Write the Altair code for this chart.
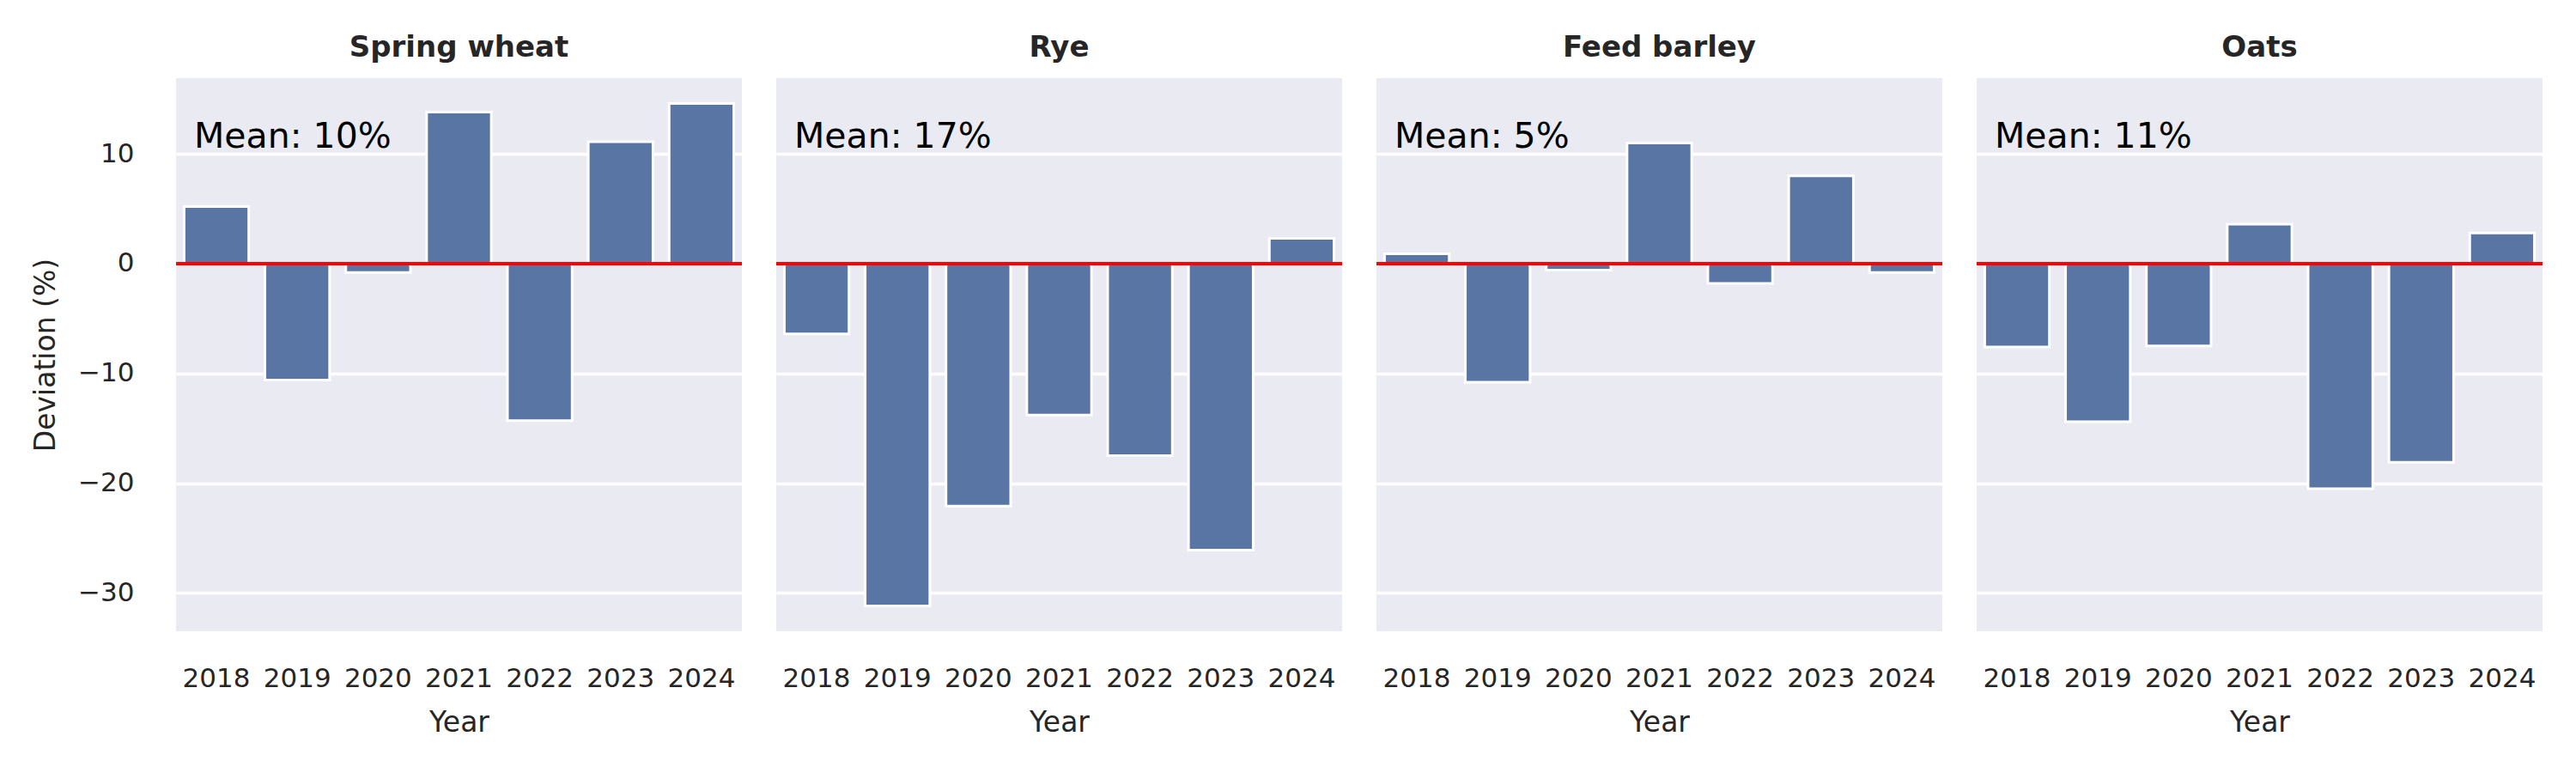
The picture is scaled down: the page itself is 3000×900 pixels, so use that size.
import altair as alt
import pandas as pd

crops = ["Spring wheat", "Rye", "Feed barley", "Oats"]
years = ["2018", "2019", "2020", "2021", "2022", "2023", "2024"]
spring_wheat = [5.2, -10.6, -0.8, 13.8, -14.3, 11.1, 14.6]
rye = [-6.4, -31.2, -22.1, -13.8, -17.5, -26.1, 2.3]
feed_barley = [0.9, -10.8, -0.6, 11.0, -1.8, 8.0, -0.8]
oats = [-7.6, -14.4, -7.5, 3.6, -20.5, -18.1, 2.8]
mean_labels = ["Mean: 10%", "Mean: 17%", "Mean: 5%", "Mean: 11%"]
y_ticks = [-30, -20, -10, 0, 10]

series = [spring_wheat, rye, feed_barley, oats]
rows = []
for crop, vals, lab in zip(crops, series, mean_labels):
    for yr, v in zip(years, vals):
        rows.append({"Crop": crop, "Year": yr, "Deviation": v, "Label": lab})
df = pd.DataFrame(rows)

FONT = "DejaVu Sans"
TXT = "#262626"

bars = alt.Chart().mark_bar(color="#5975a4", stroke="white", strokeWidth=3).encode(
    x=alt.X("Year:N", sort=years,
            scale=alt.Scale(paddingInner=0.2, paddingOuter=0.1),
            axis=alt.Axis(title="Year", labelAngle=0, grid=False, labelPadding=40,
                          titlePadding=20)),
    y=alt.Y("Deviation:Q",
            scale=alt.Scale(domain=[-33.5, 16.9], nice=False),
            axis=alt.Axis(title="Deviation (%)", values=y_ticks, grid=True,
                          labelPadding=47, titlePadding=20)),
)

rule = alt.Chart().mark_rule(color="red", strokeWidth=4).encode(
    y=alt.datum(0)
).transform_filter(alt.datum.Year == "2018")

text = alt.Chart().mark_text(align="left", baseline="alphabetic", fontSize=41,
                             font=FONT, color="black").encode(
    x=alt.value(21), y=alt.value(81), text="Label:N"
).transform_filter(alt.datum.Year == "2018")

layered = alt.layer(bars, rule, text, data=df).properties(width=659, height=644)

chart = layered.facet(
    column=alt.Column("Crop:N", sort=crops,
                      header=alt.Header(title=None, labelFontSize=34, labelFontWeight="bold",
                                        labelFont=FONT, labelColor=TXT, labelPadding=18)),
    spacing=36,
).properties(
    padding={"left": 29, "top": 31, "right": 5, "bottom": 5}
).configure_view(
    fill="#EAEAF2", stroke=None
).configure_axis(
    domain=False, ticks=False, tickSize=0,
    gridColor="white", gridWidth=3.5,
    labelFont=FONT, labelFontSize=31, labelColor=TXT,
    titleFont=FONT, titleFontSize=33, titleColor=TXT, titleFontWeight="normal",
)

chart.save("out.html", embed_options={"renderer": "svg", "actions": False})
